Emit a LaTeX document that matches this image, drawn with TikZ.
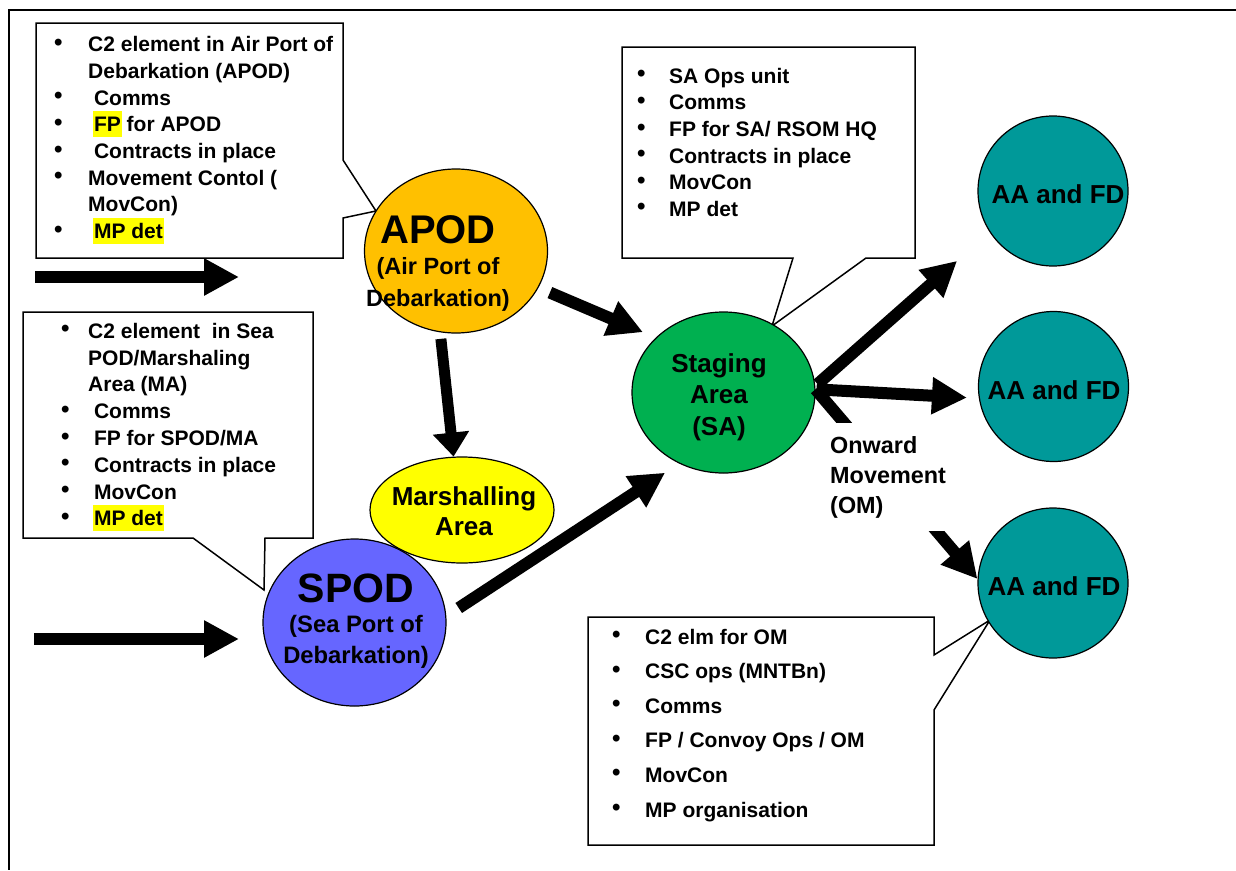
\documentclass[tikz,border=0pt]{standalone}
\usepackage{fontspec}
\setmainfont{Liberation Sans}
\usetikzlibrary{arrows.meta,shapes.geometric}

\definecolor{apodfill}{HTML}{FFC000}
\definecolor{safill}{HTML}{00B050}
\definecolor{marshfill}{HTML}{FFFF00}
\definecolor{spodfill}{HTML}{6666FF}
\definecolor{aafill}{HTML}{009999}
\definecolor{hlyellow}{HTML}{FFFF00}

% bullet in a fixed-width slot
\newcommand\bul[1]{\makebox[#1][l]{\hspace{-1pt}\raisebox{1.5pt}{\fontsize{24}{0}\selectfont\textbullet}}}
% yellow text highlight that does not change the line height
\newcommand\hilite[1]{\setbox0\hbox{#1}\rlap{\smash{\hspace{-1pt}\textcolor{hlyellow}{\rule[-5pt]{\dimexpr\wd0+2pt\relax}{26pt}}}}\box0\relax}

\tikzset{
  frameline/.style={line width=2pt},
  callout/.style={draw=black, fill=white, line width=1.5pt},
  calltext/.style={inner sep=0pt, anchor=base west, font=\bfseries\fontsize{21}{26.7}\selectfont},
  place/.style={draw=black, line width=1.2pt, inner sep=0pt},
  oval/.style={place, ellipse},
  disc/.style={place, circle, fill=aafill, minimum size=150pt},
  placetext/.style={inner sep=0pt, anchor=base},
  bigarrow/.style={line width=12pt, -{Triangle[length=35pt,width=35pt]}},
  downarrow/.style={line width=11pt, -{Triangle[length=24pt,width=35pt]}},
}

\begin{document}
\begin{tikzpicture}[x=1pt,y=-1pt]
\useasboundingbox (0,0) rectangle (1236,870);

% page frame
\draw[frameline] (1236,10) -- (9,10) -- (9,870);

% callout boxes
\draw[callout] (36,23) -- (343,23) -- (343,160) -- (376,211) -- (343,218) -- (343,258) -- (36,258) -- cycle;
\draw[callout] (622,47) -- (915,47) -- (915,258) -- (866,258) -- (772,326) -- (793,258) -- (622,258) -- cycle;
\draw[callout] (23,312) -- (313,312) -- (313,538) -- (265,538) -- (264,590) -- (193,538) -- (23,538) -- cycle;
\draw[callout] (588,617) -- (934,617) -- (934,655) -- (990,620) -- (934,710) -- (934,845) -- (588,845) -- cycle;

% callout texts
\node[calltext] (apodnotes) at (55,51.7) {\begin{tabular}[t]{@{}l@{}l@{}}
\bul{33pt} & C2 element in Air Port of\\
 & Debarkation (APOD)\\
\bul{33pt} & \ Comms\\
\bul{33pt} & \ \hilite{FP} for APOD\\
\bul{33pt} & \ Contracts in place\\
\bul{33pt} & Movement Contol (\\
 & MovCon)\\
\bul{33pt} & \ \hilite{MP det}
\end{tabular}};

\node[calltext, font=\bfseries\fontsize{21}{26.6}\selectfont] (sanotes) at (638,83.3) {\begin{tabular}[t]{@{}l@{}l@{}}
\bul{31pt} & SA Ops unit\\
\bul{31pt} & Comms\\
\bul{31pt} & FP for SA/ RSOM HQ\\
\bul{31pt} & Contracts in place\\
\bul{31pt} & MovCon\\
\bul{31pt} & MP det
\end{tabular}};

\node[calltext, font=\bfseries\fontsize{21}{26.8}\selectfont] (spodnotes) at (62,338.3) {\begin{tabular}[t]{@{}l@{}l@{}}
\bul{26pt} & C2 element\ \ in Sea\\
 & POD/Marshaling\\
 & Area (MA)\\
\bul{26pt} & \ Comms\\
\bul{26pt} & \ FP for SPOD/MA\\
\bul{26pt} & \ Contracts in place\\
\bul{26pt} & \ MovCon\\
\bul{26pt} & \ \hilite{MP det}
\end{tabular}};

\node[calltext, font=\bfseries\fontsize{21}{34.6}\selectfont] (omnotes) at (613,644) {\begin{tabular}[t]{@{}l@{}l@{}}
\bul{32pt} & C2 elm for OM\\
\bul{32pt} & CSC ops (MNTBn)\\
\bul{32pt} & Comms\\
\bul{32pt} & FP / Convoy Ops / OM\\
\bul{32pt} & MovCon\\
\bul{32pt} & MP organisation
\end{tabular}};

% places
\node[oval, fill=apodfill, minimum width=183pt, minimum height=164pt] (apod) at (456,251) {};
\node[oval, fill=safill, minimum width=183pt, minimum height=161pt] (sa) at (723.5,392.5) {};
\node[oval, fill=marshfill, minimum width=184pt, minimum height=106pt] (marsh) at (462,510) {};
\node[oval, fill=spodfill, minimum width=183pt, minimum height=167pt] (spod) at (354.5,622.5) {};
\node[disc] (aa1) at (1053,191) {};
\node[disc] (aa2) at (1053.5,386.5) {};
\node[disc] (aa3) at (1053,583) {};

% place names
\node[placetext, font=\bfseries\fontsize{23.5}{31.5}\selectfont] (apodname) at (438,243)
  {\begin{tabular}[t]{@{}c@{}}{\fontsize{40}{40}\selectfont APOD}\\(Air Port of\\Debarkation)\end{tabular}};
\node[placetext, font=\bfseries\fontsize{26}{31.5}\selectfont] (saname) at (719,372)
  {\begin{tabular}[t]{@{}c@{}}Staging\\Area\\(SA)\end{tabular}};
\node[placetext, font=\bfseries\fontsize{26}{30}\selectfont] (marshname) at (464,505)
  {\begin{tabular}[t]{@{}c@{}}Marshalling\\Area\end{tabular}};
\node[placetext, font=\bfseries\fontsize{23.8}{30.5}\selectfont] (spodname) at (356,602)
  {\begin{tabular}[t]{@{}c@{}}{\fontsize{41}{41}\selectfont SPOD}\\(Sea Port of\\Debarkation)\end{tabular}};
\node[placetext, font=\bfseries\fontsize{26}{30}\selectfont] (aa1name) at (1058,203) {AA and FD};
\node[placetext, font=\bfseries\fontsize{26}{30}\selectfont] (aa2name) at (1054,399) {AA and FD};
\node[placetext, font=\bfseries\fontsize{26}{30}\selectfont] (aa3name) at (1054,595) {AA and FD};

% incoming flows
\coordinate (airin) at (35,277);
\coordinate (airend) at (239,277);
\coordinate (seain) at (34,639);
\coordinate (seaend) at (239,639);
\draw[bigarrow] (airin) -- (airend);
\draw[bigarrow] (seain) -- (seaend);

% flows between places
\draw[bigarrow, shorten <=12.4pt, shorten >=13.8pt] (apod.-24.4) -- (sa.141.4);
\draw[downarrow, shorten <=6.5pt] (apod.-101.7) -- (marsh.99.6);
\draw[bigarrow, shorten <=14.8pt, shorten >=16.7pt] (spod.4.3) -- (sa.-122.3);
\draw[bigarrow, shorten <=3pt, shorten >=43.3pt] (sa.4.7) -- (aa1.213.9);
\draw[bigarrow, shorten <=1pt, shorten >=11.9pt] (sa.2.8) -- (aa2.189.5);
\draw[bigarrow] (sa.2) -- (aa3.177);

% label over the onward flow
\node[fill=white, inner xsep=4pt, inner ysep=9pt, anchor=base west,
      font=\bfseries\fontsize{23.4}{30}\selectfont] (omlabel) at (826,453)
  {\begin{tabular}[t]{@{}l@{}}Onward\\Movement\\(OM)\end{tabular}};
\end{tikzpicture}
\end{document}
